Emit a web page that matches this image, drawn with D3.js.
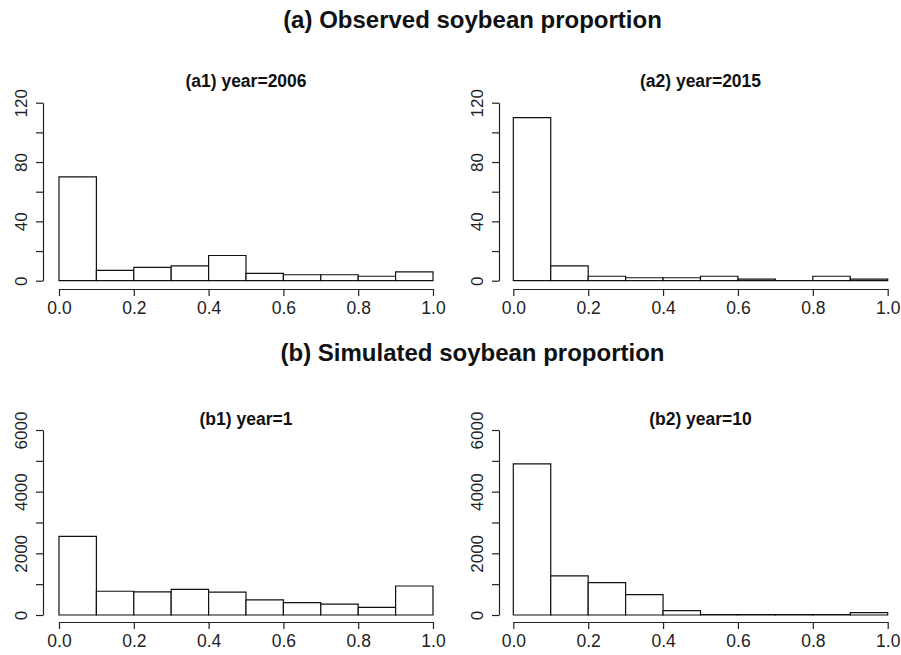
<!DOCTYPE html>
<html><head><meta charset="utf-8">
<script src="https://cdn.jsdelivr.net/npm/d3@7"></script>
<style>body{margin:0;background:#fff}svg{display:block}</style>
</head><body>
<svg id="c" width="901" height="655"></svg>
<script>
const binEdges = [0,0.1,0.2,0.3,0.4,0.5,0.6,0.7,0.8,0.9,1.0];
const xTicks = [0,0.2,0.4,0.6,0.8,1.0];
const a1Counts = [70,7,9,10,17,5,4,4,3,6];
const a2Counts = [110,10,3,2,2,3,1,0,3,1];
const b1Counts = [2550,770,750,830,740,490,400,350,250,940];
const b2Counts = [4900,1270,1050,660,140,15,10,10,10,80];
const aYTicks = [0,20,40,60,80,100,120];
const aYLabels = [0,40,80,120];
const bYTicks = [0,1000,2000,3000,4000,5000,6000];
const bYLabels = [0,2000,4000,6000];
const mainTitles = ["(a) Observed soybean proportion","(b) Simulated soybean proportion"];
const panelTitles = ["(a1) year=2006","(a2) year=2015","(b1) year=1","(b2) year=10"];

const svg = d3.select("#c");
const FONT = "'Liberation Sans', Arial, sans-serif";

const rows = [
  {title: mainTitles[0], titleY: 28, yTop: 102.7, yBot: 280.7, axisY: 289, ptY: 86.5, yMax: 120, yTicks: aYTicks, yLabels: aYLabels,
   panels: [{counts: a1Counts, t: panelTitles[0]}, {counts: a2Counts, t: panelTitles[1]}]},
  {title: mainTitles[1], titleY: 361, yTop: 430, yBot: 615, axisY: 622, ptY: 425, yMax: 6000, yTicks: bYTicks, yLabels: bYLabels,
   panels: [{counts: b1Counts, t: panelTitles[2]}, {counts: b2Counts, t: panelTitles[3]}]}
];
const cols = [{x0: 59, x1: 433, yAxisX: 43}, {x0: 513.3, x1: 887.7, yAxisX: 499}];

rows.forEach(row => {
  svg.append("text").attr("x", 472.5).attr("y", row.titleY)
    .attr("text-anchor","middle").attr("font-family",FONT).attr("font-weight","bold")
    .attr("font-size", 24).attr("fill","#111").text(row.title);
  row.panels.forEach((p, ci) => {
    const col = cols[ci];
    const x = d3.scaleLinear().domain([0,1]).range([col.x0, col.x1]);
    const y = d3.scaleLinear().domain([0,row.yMax]).range([row.yBot, row.yTop]);
    const g = svg.append("g");
    // bars (paths so zero-count bins still draw a line on the baseline)
    g.selectAll("path.bar").data(p.counts).join("path").attr("class","bar")
      .attr("d", (d,i) => {
        const xa = x(binEdges[i]), xb = x(binEdges[i+1]), y0 = y(0), y1 = y(d);
        return `M${xa},${y0}V${y1}H${xb}V${y0}Z`;
      })
      .attr("fill","#fff").attr("stroke","#111").attr("stroke-width",1.2);
    // x axis
    const xa = g.append("g").attr("transform",`translate(0,${row.axisY})`)
      .call(d3.axisBottom(x).tickValues(xTicks).tickSize(7).tickSizeOuter(0).tickFormat(d3.format(".1f")));
    xa.selectAll("text").attr("y", 25).attr("dy", 0).attr("font-family",FONT).attr("font-size",17.5).attr("fill","#222");
    // y axis
    const ya = g.append("g").attr("transform",`translate(${col.yAxisX},0)`)
      .call(d3.axisLeft(y).tickValues(row.yTicks).tickSize(7).tickSizeOuter(0)
        .tickFormat(d => row.yLabels.includes(d) ? d : ""));
    ya.selectAll("text").attr("transform","rotate(-90)").attr("x",0).attr("y",-16).attr("dy",0)
      .attr("text-anchor","middle").attr("font-family",FONT).attr("font-size",17).attr("fill","#222");
    g.selectAll(".domain, .tick line").attr("stroke","#222").attr("stroke-width",1.2);
    // panel title
    g.append("text").attr("x", (col.x0+col.x1)/2).attr("y", row.ptY)
      .attr("text-anchor","middle").attr("font-family",FONT).attr("font-weight","bold")
      .attr("font-size",17.5).attr("fill","#111").text(p.t);
  });
});
</script>
</body></html>
